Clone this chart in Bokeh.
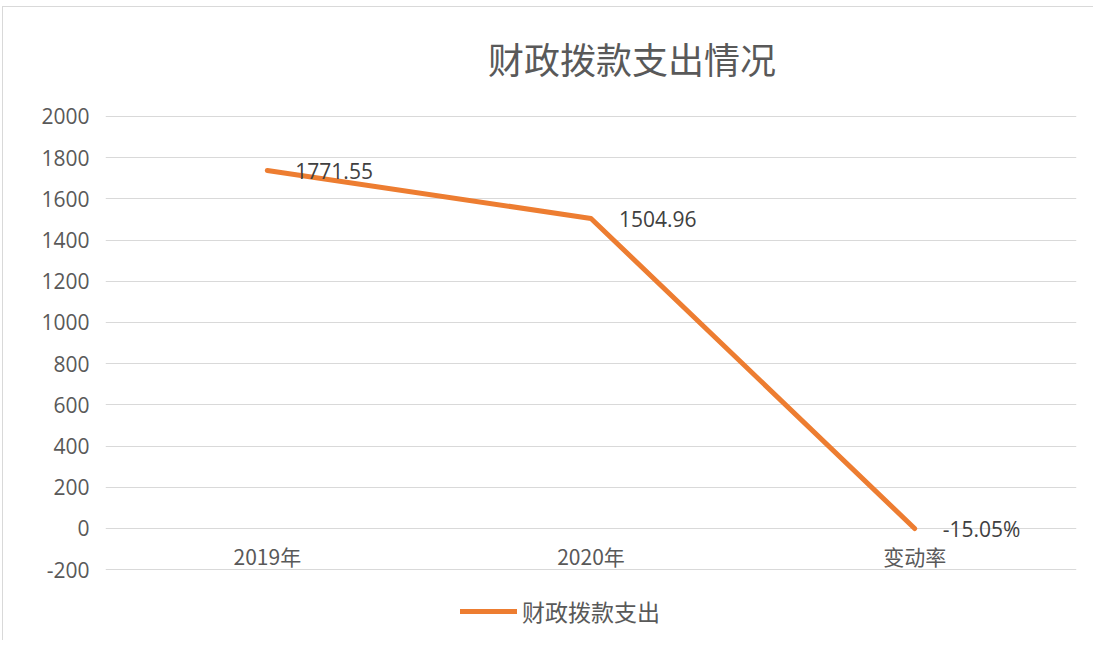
from bokeh.plotting import figure
from bokeh.models import ColumnDataSource, FactorRange, Range1d, FixedTicker, Label, Legend, LegendItem, NumeralTickFormatter
from bokeh.core.properties import value
from bokeh.embed import file_html
from bokeh.resources import INLINE

categories = ["2019年", "2020年", "变动率"]
series_values = [1738, 1504.96, -0.1505]
value_labels = ["1771.55", "1504.96", "-15.05%"]
y_ticks = [-200, 0, 200, 400, 600, 800, 1000, 1200, 1400, 1600, 1800, 2000]
series_name = "财政拨款支出"
title_text = "财政拨款支出情况"

ORANGE = "#ED7D31"
GRAY = "#595959"
NUM_FONT = "Open Sans"
CJK_FONT = "Noto Sans CJK SC"

p = figure(width=1091, height=634, output_backend="svg", toolbar_location=None,
           x_range=FactorRange(*categories), y_range=Range1d(-544, 2466),
           min_border_left=102, min_border_right=18, min_border_top=13, min_border_bottom=1)
p.outline_line_color = None
p.background_fill_color = "white"
p.border_fill_color = "white"

p.xaxis.visible = False
p.xgrid.grid_line_color = None
p.yaxis.ticker = FixedTicker(ticks=y_ticks)
p.yaxis.formatter = NumeralTickFormatter(format="0")
p.yaxis.axis_line_color = None
p.yaxis.major_tick_line_color = None
p.yaxis.minor_tick_line_color = None
p.yaxis.major_label_standoff = 10
p.yaxis.major_label_text_font = NUM_FONT
p.yaxis.major_label_text_font_size = "21px"
p.yaxis.major_label_text_color = GRAY
p.ygrid.grid_line_color = "#D9D9D9"
p.ygrid.grid_line_width = 1

src = ColumnDataSource(dict(x=categories, y=series_values, lab=value_labels,
                            zero=[0] * len(categories)))

r = p.line("x", "y", source=src, line_color=ORANGE, line_width=5,
           line_cap="round", line_join="round")

p.text("x", "y", text="lab", source=src, x_offset=28, y_offset=1,
       text_font=value(NUM_FONT), text_font_size="21px", text_color="#404040",
       text_align="left", text_baseline="middle")

p.text("x", "zero", text="x", source=src, y_offset=28,
       text_font=value(CJK_FONT), text_font_size="21px", text_color=GRAY,
       text_align="center", text_baseline="middle")

p.add_layout(Label(x=1.627, y=2000, y_offset=58, text=title_text,
                   text_font=CJK_FONT, text_font_size="36px", text_color=GRAY,
                   text_align="center", text_baseline="middle"))

legend = Legend(items=[LegendItem(label=series_name, renderers=[r])],
                location=(355, 12), orientation="horizontal",
                label_text_font=CJK_FONT, label_text_font_size="23px",
                label_text_color=GRAY, glyph_width=57, glyph_height=24,
                label_height=24, border_line_color=None,
                background_fill_alpha=0, margin=0, padding=0, spacing=0,
                label_standoff=5)
p.add_layout(legend)
p.styles = {"border-top": "1px solid #D9D9D9", "border-left": "1px solid #D9D9D9",
            "margin-left": "2px", "margin-top": "6px"}

open("out.html", "w").write(file_html(p, INLINE))
